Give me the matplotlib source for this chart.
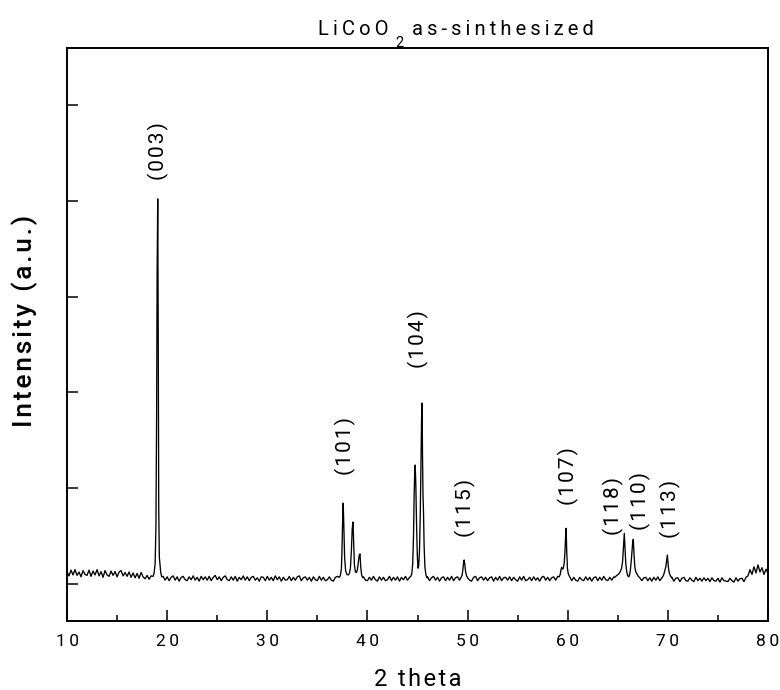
import matplotlib
matplotlib.use("Agg")
import matplotlib.pyplot as plt
from matplotlib.ticker import FixedLocator, FixedFormatter, NullFormatter

plt.rcParams['font.family'] = ['Roboto', 'DejaVu Sans']

# ---------------- data ----------------
scan_start = 10.0
scan_step = 0.2
background = [
    260, 170, 290, 190, 300, 180, 250, 150, 280, 200,   # 10.0-11.8
    180, 290, 160, 270, 190, 300, 170, 260, 140, 280,   # 12
    190, 160, 270, 180, 260, 150, 250, 280, 170, 240,   # 14
    160, 250, 140, 230, 130, 220, 120, 240, 150, 110,   # 16
    180, 100, 170, 120, 190, 130, 150, 90, 160, 80,     # 18
    150, 70, 140, 170, 80, 150, 60, 140, 160, 90,       # 20
    70, 150, 90, 170, 80, 140, 60, 160, 90, 150,        # 22
    80, 160, 70, 140, 180, 90, 150, 70, 140, 170,       # 24
    90, 70, 150, 80, 160, 60, 140, 90, 170, 80,         # 26
    150, 70, 140, 160, 80, 130, 60, 150, 140, 70,       # 28
    160, 80, 140, 70, 170, 90, 150, 60, 140, 80,        # 30
    90, 160, 70, 140, 80, 150, 170, 70, 130, 150,       # 32
    80, 140, 60, 150, 90, 70, 160, 80, 140, 70,         # 34
    90, 150, 80, 60, 140, 160, 90, 150, 70, 140,        # 36
    90, 160, 80, 150, 70, 140, 90, 60, 150, 80,         # 38
    70, 140, 80, 160, 90, 60, 150, 80, 140, 70,         # 40
    90, 160, 70, 140, 80, 150, 60, 140, 90, 160,        # 42
    80, 140, 150, 70, 130, 80, 150, 70, 140, 90,        # 44
    150, 70, 130, 160, 80, 140, 60, 130, 150, 70,       # 46
    140, 80, 160, 70, 130, 150, 80, 140, 70, 130,       # 48
    150, 80, 60, 140, 160, 70, 130, 150, 80, 140,       # 50
    70, 130, 150, 60, 140, 80, 160, 70, 130, 140,       # 52
    80, 150, 70, 140, 90, 60, 150, 80, 160, 70,         # 54
    90, 140, 70, 150, 80, 130, 60, 140, 160, 80,        # 56
    140, 70, 130, 150, 80, 160, 140, 90, 150, 80,       # 58
    90, 150, 70, 140, 80, 60, 140, 90, 70, 150,         # 60
    80, 140, 60, 130, 150, 70, 140, 80, 160, 90,        # 62
    70, 140, 80, 150, 90, 160, 140, 150, 170, 140,      # 64
    160, 90, 150, 170, 140, 80, 150, 70, 130, 140,      # 66
    70, 130, 60, 140, 80, 150, 70, 130, 140, 80,        # 68
    130, 70, 140, 60, 120, 130, 50, 120, 140, 70,       # 70
    60, 130, 80, 50, 140, 70, 120, 60, 130, 70,         # 72
    120, 50, 130, 70, 60, 120, 40, 130, 70, 60,         # 74
    50, 120, 70, 40, 130, 60, 110, 120, 50, 140,        # 76
    170, 300, 200, 360, 230, 400, 250, 340, 200, 310,   # 78
    220,                                                # 80.0
]

# reflection profiles (2theta, intensity)
p003_x = [18.6, 18.7, 18.8, 18.88, 18.95, 19.0, 19.06, 19.11, 19.16, 19.22, 19.28, 19.36, 19.46]
p003_y = [160, 230, 420, 1200, 3600, 6500, 8040, 5200, 1600, 560, 430, 240, 150]

p101_x = [37.2, 37.3, 37.4, 37.46, 37.52, 37.58, 37.64, 37.72, 37.82, 37.95, 38.08, 38.2, 38.3,
          38.4, 38.48, 38.56, 38.62, 38.7, 38.8, 38.9, 39.0, 39.1, 39.18, 39.26, 39.33, 39.42, 39.55]
p101_y = [140, 180, 320, 700, 1300, 1690, 1250, 560, 280, 200, 190, 220, 330,
          700, 1150, 1294, 900, 400, 250, 240, 300, 470, 600, 626, 360, 190, 130]

p104_x = [44.3, 44.42, 44.52, 44.6, 44.67, 44.72, 44.77, 44.83, 44.9, 44.98, 45.05, 45.12,
          45.2, 45.28, 45.35, 45.41, 45.46, 45.5, 45.55, 45.6, 45.66, 45.74, 45.84, 45.96]
p104_y = [150, 200, 420, 1000, 1900, 2300, 2484, 2100, 1300, 600, 330, 380,
          700, 1500, 2600, 3500, 3779, 2700, 1860, 1500, 800, 350, 190, 130]

p115_x = [49.35, 49.45, 49.53, 49.6, 49.66, 49.72, 49.8, 49.9, 50.0]
p115_y = [140, 180, 300, 440, 501, 420, 260, 170, 130]

p107_x = [59.15, 59.25, 59.33, 59.4, 59.48, 59.56, 59.64, 59.72, 59.79, 59.84, 59.9, 59.97, 60.05, 60.15, 60.25]
p107_y = [150, 200, 300, 348, 310, 330, 420, 650, 1000, 1163, 700, 330, 220, 170, 130]

p118_110_x = [64.7, 64.9, 65.1, 65.25, 65.38, 65.48, 65.56, 65.65, 65.72, 65.8, 65.9, 66.0, 66.1,
              66.18, 66.26, 66.34, 66.42, 66.5, 66.55, 66.62, 66.7, 66.8, 66.92, 67.05, 67.2]
p118_110_y = [140, 180, 210, 260, 330, 470, 750, 1058, 760, 420, 250, 170, 150,
              190, 300, 470, 700, 900, 933, 620, 360, 250, 210, 160, 130]

p113_x = [69.45, 69.58, 69.7, 69.8, 69.88, 69.95, 70.01, 70.08, 70.16, 70.26, 70.38]
p113_y = [140, 190, 280, 360, 500, 605, 450, 300, 220, 170, 130]

reflection_labels = ['(003)', '(101)', '(104)', '(115)', '(107)', '(118)', '(110)', '(113)']
label_x = [19.09, 37.76, 45.05, 49.74, 60.03, 64.52, 67.22, 70.21]
label_y = [8434, 2276, 4509, 981, 1649, 1023, 1127, 960]

x_ticks = [10, 20, 30, 40, 50, 60, 70, 80]
x_tick_labels = ['10', '20', '30', '40', '50', '60', '70', '80']
x_minor = [15, 25, 35, 45, 55, 65, 75]
y_ticks = [0, 2000, 4000, 6000, 8000, 10000]

# ---------------- build trace ----------------
groups = [(p003_x, p003_y), (p101_x, p101_y), (p104_x, p104_y), (p115_x, p115_y),
          (p107_x, p107_y), (p118_110_x, p118_110_y), (p113_x, p113_y)]
bg_x = [round(scan_start + i * scan_step, 2) for i in range(len(background))]
pts = []
for x, y in zip(bg_x, background):
    if not any(min(gx) <= x <= max(gx) for gx, _ in groups):
        pts.append((x, y))
for gx, gy in groups:
    pts.extend(zip(gx, gy))
pts.sort()
tx = [p[0] for p in pts]
ty = [p[1] for p in pts]

THIN = '\u2009'
HAIR = '\u200a'


def sp(s, gap=HAIR):
    return gap.join(s)


# ---------------- figure ----------------
W, H = 780, 690
fig = plt.figure(figsize=(W / 100, H / 100), dpi=100)
ax = fig.add_axes([67 / W, (H - 621) / H, (768 - 67) / W, (621 - 48) / H])

ax.plot(tx, ty, color='black', lw=0.95)

ax.set_xlim(10, 80)
ax.set_ylim(-772, 11190)

ax.xaxis.set_major_locator(FixedLocator(x_ticks))
ax.xaxis.set_major_formatter(FixedFormatter([sp(t, THIN) for t in x_tick_labels]))
ax.xaxis.set_minor_locator(FixedLocator(x_minor))
ax.xaxis.set_minor_formatter(NullFormatter())
ax.yaxis.set_major_locator(FixedLocator(y_ticks))
ax.yaxis.set_major_formatter(NullFormatter())

ax.tick_params(axis='x', which='major', direction='in', length=8, width=1.1,
               labelsize=12.5, pad=9, top=False)
ax.tick_params(axis='x', which='minor', direction='in', length=4.3, width=1.1, top=False)
ax.tick_params(axis='y', which='major', direction='in', length=8, width=1.1, right=False)

for s in ax.spines.values():
    s.set_linewidth(1.4)

for lab, lx, ly in zip(reflection_labels, label_x, label_y):
    ax.text(lx, ly, sp(lab), rotation=90, ha='center', va='bottom', fontsize=15)

# axis titles
fig.text(418 / W, (H - 680) / H, sp('2 theta'), ha='center', va='center', fontsize=17)
fig.text(25 / W, (H - 321) / H, sp('Intensity (a.u.)'), rotation=90, ha='center', va='center',
         fontsize=19, fontweight='medium')

# title: LiCoO2 as-sinthesized
ty_base = (H - 35) / H
fig.text(389 / W, ty_base, sp('LiCoO', THIN), ha='right', va='baseline', fontsize=14.5)
fig.text(395 / W, (H - 47) / H, '2', ha='left', va='baseline', fontsize=10.5)
fig.text(412 / W, ty_base, sp('as-sinthesized', THIN), ha='left', va='baseline', fontsize=14.5)

fig.savefig('out.png', dpi=100)
